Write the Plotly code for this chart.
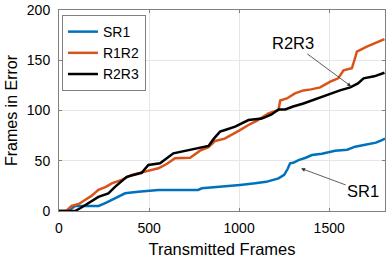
import plotly.graph_objects as go

# ---- data ----
sr1_x = [0, 50, 90, 220, 260, 293, 330, 367, 440, 552, 650, 772, 793, 900, 1005, 1089,
         1150, 1219, 1250, 1270, 1283, 1300, 1330, 1370, 1404, 1460, 1533, 1600, 1644,
         1700, 1760, 1793, 1810]
sr1_y = [0, 0, 5, 5, 8, 11, 14, 17.6, 19.2, 20.9, 21, 21, 22.6, 24, 25.9, 27.5,
         29, 32.5, 36, 42, 47.4, 48, 50.7, 53, 55.7, 57, 60, 61, 64,
         66, 68, 70.6, 72]

r1r2_x = [0, 40, 70, 110, 144, 180, 219, 260, 293, 348, 404, 478, 552, 600, 644, 728,
          783, 830, 867, 920, 959, 1000, 1052, 1100, 1163, 1219, 1228, 1265, 1310, 1357,
          1400, 1450, 1506, 1550, 1580, 1626, 1640, 1654, 1709, 1760, 1807]
r1r2_y = [0, 0, 5, 7, 11, 15, 21, 24, 27.5, 31, 36, 39, 42.5, 47, 52.4, 53,
          60, 63.4, 69.7, 72, 75.6, 80, 85.6, 90, 97.2, 100.5, 110, 112, 117, 120,
          121, 123, 128.7, 132, 140, 142, 150, 158.5, 163.5, 167, 171]

r2r3_x = [0, 89, 120, 163, 219, 274, 311, 376, 420, 459, 496, 561, 635, 700, 765, 830,
          860, 894, 922, 978, 1052, 1126, 1180, 1219, 1256, 1300, 1357, 1420, 1506, 1560,
          1617, 1660, 1691, 1750, 1807]
r2r3_y = [0, 0, 3, 7.6, 14, 17.6, 24, 34, 36, 38, 45.8, 47.4, 57.4, 60, 62.7, 64.7,
          72, 79, 80.6, 84, 90.5, 92, 96, 101, 101, 104, 107, 111, 117, 120,
          123, 127, 132, 134, 137.6]

series_names = ["SR1", "R1R2", "R2R3"]
series_colors = ["#0072BD", "#D95319", "#000000"]

x_ticks = [0, 500, 1000, 1500]
y_ticks = [0, 50, 100, 150, 200]

FONT = "Liberation Sans, Arial, sans-serif"

fig = go.Figure()
for name, xs, ys, col in zip(series_names,
                             [sr1_x, r1r2_x, r2r3_x],
                             [sr1_y, r1r2_y, r2r3_y],
                             series_colors):
    fig.add_trace(go.Scatter(x=xs, y=ys, mode="lines", name=name,
                             line=dict(color=col, width=2.5)))

axis_common = dict(
    showline=True, mirror="ticks", linecolor="#808080", linewidth=1,
    ticks="inside", ticklen=3, tickcolor="#808080",
    showgrid=True, gridcolor="#e6e6e6", gridwidth=1,
    zeroline=False, automargin=False,
    tickfont=dict(size=14, color="#000000", family=FONT),
)

fig.update_layout(
    width=390, height=260,
    margin=dict(l=59, r=5, t=10, b=49),
    paper_bgcolor="white", plot_bgcolor="white",
    font=dict(family=FONT, color="#000000"),
    xaxis=dict(range=[0, 1810], tickvals=x_ticks,
               title=dict(text="Transmitted Frames", font=dict(size=16.5), standoff=8),
               ticklabelstandoff=4,
               **axis_common),
    yaxis=dict(range=[0, 200], tickvals=y_ticks,
               title=dict(text="Frames in Error", font=dict(size=16), standoff=5),
               ticklabelstandoff=5,
               **axis_common),
    legend=dict(x=0.009, y=0.975, xanchor="left", yanchor="top",
                bgcolor="white", bordercolor="#808080", borderwidth=1,
                font=dict(size=14, family=FONT), tracegroupgap=0,
                itemwidth=30),
    showlegend=True,
)

fig.add_annotation(x=1622, y=124, ax=-58, ay=-43, text="R2R3",
                   showarrow=True, arrowhead=2, arrowsize=1, arrowwidth=0.8,
                   arrowcolor="#333333", font=dict(size=16.5, family=FONT))
fig.add_annotation(x=1344, y=42.4, ax=62, ay=23, text="SR1",
                   showarrow=True, arrowhead=2, arrowsize=1, arrowwidth=0.8,
                   arrowcolor="#333333", font=dict(size=16.5, family=FONT))

fig.write_html("out.html", config={"displayModeBar": False},
               post_script="document.body.style.margin='0';document.body.style.overflow='hidden';")
